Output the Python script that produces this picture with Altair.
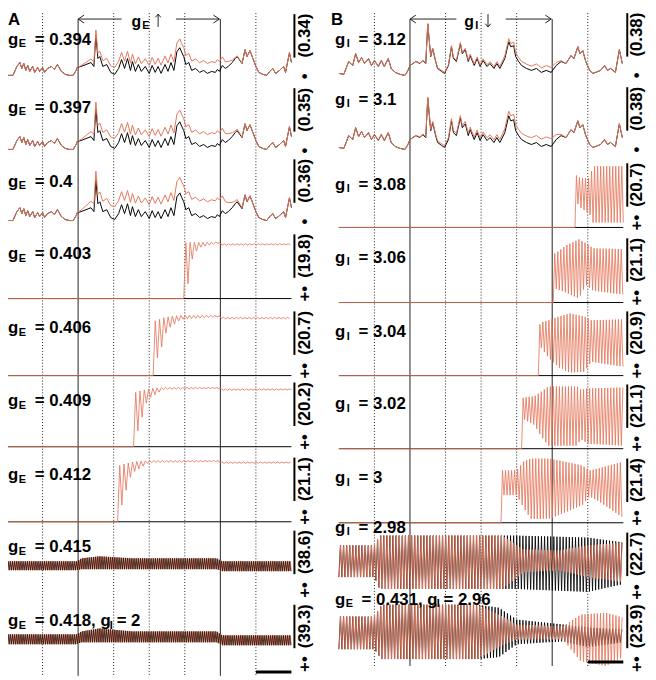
import numpy as np
import pandas as pd
import altair as alt

# ---------------- values ----------------
LABELS_A = ["0.394", "0.397", "0.4", "0.403", "0.406", "0.409", "0.412", "0.415", "0.418"]
LABELS_B = ["3.12", "3.1", "3.08", "3.06", "3.04", "3.02", "3", "2.98", "2.96"]
NUM_A = ["(0.34)", "(0.35)", "(0.36)", "(19.8)", "(20.7)", "(20.2)", "(21.1)", "(38.6)", "(39.3)"]
PRE_A = ["•", "•", "•", "+•", "+•", "+•", "+•", "+•", "+•"]
NUM_B = ["(0.38)", "(0.38)", "(20.7)", "(21.1)", "(20.9)", "(21.1)", "(21.4)", "(22.7)", "(23.9)"]
PRE_B = ["•", "•", "+•", "+•", "+•", "+•", "+•", "+•", "+•"]

# shared low-activity trace, panel A (time 0..8, height)
A_TRACE_T = [0.000, 0.167, 0.278, 0.361, 0.417, 0.472, 0.528, 0.583, 0.639, 0.722, 0.778, 0.861, 0.917,
             1.000, 1.056, 1.139, 1.250, 1.333, 1.417, 1.528, 1.639, 1.750, 1.861, 1.944, 1.972, 2.083,
             2.222, 2.361, 2.444, 2.500, 2.556, 2.611, 2.694, 2.806, 2.917, 3.028, 3.139, 3.222, 3.306,
             3.389, 3.472, 3.528, 3.611, 3.694, 3.778, 3.889, 4.000, 4.083, 4.167, 4.250, 4.333, 4.444,
             4.528, 4.611, 4.694, 4.778, 4.861, 4.917, 4.972, 5.028, 5.111, 5.194, 5.306, 5.417, 5.528,
             5.639, 5.750, 5.861, 5.917, 5.972, 6.056, 6.139, 6.222, 6.333, 6.417, 6.472, 6.611, 6.694,
             6.750, 6.833, 6.917, 7.000, 7.083, 7.194, 7.306, 7.389, 7.472, 7.556, 7.667, 7.778, 7.833,
             7.944, 8.000]
A_TRACE_H = [1, 1, 10, 14, 8, 13, 6, 11, 5, 10, 4, 9, 5, 9, 4, 8, 10, 7, 12, 5, 2, 1, 1, 6, 9, 10, 12, 14,
             10, 42, 18, 20, 10, 12, 4, 2, 8, 17, 8, 18, 6, 15, 5, 12, 5, 10, 3, 11, 4, 10, 3, 12, 5, 14,
             6, 25, 29, 24, 20, 12, 14, 6, 8, 4, 6, 3, 5, 4, 7, 5, 11, 8, 10, 14, 18, 20, 13, 27, 20, 26,
             18, 10, 4, 2, 1, 5, 8, 3, 6, 10, 4, 24, 14]
# shared low-activity trace, panel B
B_TRACE_T = [0.000, 0.139, 0.278, 0.389, 0.472, 0.556, 0.639, 0.722, 0.833, 0.917, 1.000, 1.111, 1.194,
             1.278, 1.389, 1.472, 1.583, 1.722, 1.861, 1.944, 2.000, 2.083, 2.167, 2.278, 2.361, 2.444,
             2.500, 2.583, 2.639, 2.722, 2.778, 2.889, 2.972, 3.083, 3.167, 3.222, 3.306, 3.417, 3.472,
             3.556, 3.639, 3.694, 3.806, 3.889, 3.972, 4.056, 4.167, 4.250, 4.361, 4.444, 4.528, 4.667,
             4.778, 4.833, 4.917, 4.972, 5.056, 5.139, 5.278, 5.417, 5.556, 5.694, 5.833, 5.972, 6.111,
             6.250, 6.389, 6.528, 6.611, 6.722, 6.778, 6.861, 6.944, 7.056, 7.139, 7.222, 7.361, 7.472,
             7.556, 7.639, 7.778, 7.889, 7.972]
B_TRACE_H = [2, 1, 14, 10, 22, 13, 18, 12, 17, 10, 15, 9, 15, 9, 17, 7, 3, 1, 0, 5, 10, 12, 14, 12, 15,
             12, 52, 19, 27, 14, 7, 4, 2, 10, 29, 17, 14, 32, 22, 26, 14, 20, 10, 17, 9, 15, 9, 12, 7, 12,
             7, 17, 34, 29, 30, 19, 14, 10, 7, 5, 7, 3, 5, 3, 10, 14, 12, 20, 17, 29, 22, 25, 14, 5, 2, 3,
             5, 10, 5, 7, 3, 26, 12]

# extra height of the orange trace in the top rows
A_OFF_T = [0, 2.0, 2.5, 3.0, 4.0, 5.0, 5.5, 6.0, 6.4, 6.7, 8.0]
A_OFF = [[0, 0, 5, 7, 8, 9, 10, 10, 1, 0, 0],
         [0, 0, 7, 10, 11, 12, 13, 13, 2, 0, 0],
         [0, 0, 9, 13, 14, 16, 17, 17, 3, 0, 0]]
B_OFF_T = [0, 2.0, 3.0, 4.5, 5.0, 6.0, 6.3, 8.0]
B_OFF = [[0, 0, 1, 2, 4, 5, 0, 0],
         [0, 0, 2, 3, 6, 8, 0, 0]]

# oscillating orange traces after onset: (onset, period, envelope times, upper, lower)
A_OSC = {
    3: (4.97, 0.12, [4.97, 5.09, 5.21, 5.33, 5.45, 5.8, 5.95, 6.05, 8.0],
        [56, 57, 57, 57, 57, 57, 57.5, 55.5, 55.5], [15, 15, 40, 48, 52, 55, 56, 54, 54.5]),
    4: (4.11, 0.12, [4.11, 4.23, 4.35, 4.47, 4.59, 4.9, 5.95, 6.05, 8.0],
        [55, 56, 58, 59, 60, 61, 61, 59, 59], [18, 18, 29, 43, 49, 57, 59.5, 57.5, 57.5]),
    5: (3.56, 0.12, [3.56, 3.68, 3.8, 3.92, 4.04, 4.4, 5.95, 6.05, 8.0],
        [54, 56, 57, 58, 59, 60, 60, 58.5, 58.5], [16, 16, 30, 44, 50, 58, 59, 57, 57.5]),
    6: (3.11, 0.12, [3.11, 3.23, 3.35, 3.47, 3.59, 4.0, 5.95, 6.05, 8.0],
        [56, 58, 59, 60, 61, 62, 62, 60.5, 60.5], [17, 17, 32, 45, 51, 60, 61, 59, 59.5]),
}
B_OSC = {
    2: (6.64, 0.085, [6.64, 6.7, 6.8, 7.05, 7.15, 8.0], [54, 52, 50, 50, 62, 62], [25, 25, 20, 14, 5, 5]),
    3: (6.03, 0.085, [6.03, 6.1, 6.4, 6.75, 6.95, 7.15, 8.0], [49, 50, 58, 64, 60, 55, 54],
        [14, 14, 10, 4, 18, 12, 8]),
    4: (5.61, 0.085, [5.61, 5.7, 5.9, 6.2, 6.5, 6.9, 7.1, 8.0], [50, 54, 56, 60, 63, 60, 56, 57],
        [28, 28, 18, 8, 3, 4, 14, 9]),
    5: (5.14, 0.085, [5.14, 5.2, 5.5, 5.7, 5.9, 6.7, 6.8, 7.0, 8.0], [50, 52, 53, 58, 63, 63, 60, 61, 62],
        [30, 30, 24, 12, 3, 3, 10, 5, 3]),
    6: (4.56, 0.085, [4.56, 4.6, 5.0, 5.2, 5.4, 5.9, 6.2, 6.85, 7.05, 7.3, 8.0],
        [50, 53, 53, 62, 65, 65, 63, 58, 53, 55, 62], [28, 28, 28, 15, 4, 4, 8, 18, 27, 22, 5]),
}
# fully oscillating rows: (period, phase, envelope times, upper, lower) for black "k" and orange "o"
A_FULL = {
    7: {"k": (0.06, 0.0, [0, 1.95, 2.1, 2.6, 3.5, 5.9, 6.05, 8], [34, 34, 37, 39, 37, 37, 34, 34],
              [25, 25, 26, 26, 26, 26, 24, 24]),
        "o": (0.06, 0.5, [0, 1.95, 2.1, 2.6, 3.5, 5.9, 6.05, 8], [34, 34, 37, 39, 37, 37, 34, 34],
              [25, 25, 26, 26, 26, 26, 24, 24])},
    8: {"k": (0.06, 0.0, [0, 1.95, 2.1, 2.6, 3.5, 5.9, 6.05, 8], [35, 35, 38, 41, 38, 38, 34, 34],
              [25, 25, 27, 27, 27, 27, 24, 24]),
        "o": (0.06, 0.5, [0, 1.95, 2.1, 2.6, 3.5, 5.9, 6.05, 8], [35, 35, 38, 41, 38, 38, 34, 34],
              [25, 25, 27, 27, 27, 27, 24, 24])},
}
B_FULL = {
    7: {"k": (0.087, 0.0, [0, 1.0, 1.15, 5.0, 7.0, 8.0], [52, 52, 62, 62, 60, 55], [20, 20, 8, 8, 5, 13]),
        "o": (0.087, 0.15, [0, 1.0, 1.15, 4.6, 5.2, 6.2, 7.0, 8.0], [52, 52, 62, 62, 48, 47, 52, 55],
              [20, 20, 8, 8, 25, 27, 20, 15])},
    8: {"k": (0.087, 0.0, [0, 1.0, 1.2, 3.9, 4.5, 5.0, 6.3, 7.0, 8.0], [53, 53, 65, 65, 62, 50, 45, 42, 40],
              [20, 20, 10, 10, 12, 25, 28, 22, 27]),
        "o": (0.087, 0.15, [0, 1.0, 1.2, 3.9, 4.5, 5.0, 6.3, 6.8, 7.5, 8.0],
              [53, 53, 65, 65, 55, 45, 43, 55, 57, 52], [20, 20, 10, 10, 22, 30, 30, 8, 3, 12])},
}

# ---------------- layout ----------------
BASE_A = [73, 148, 220, 298, 376, 448, 524, 598, 673]   # row baselines (page px)
BASE_B = [72, 147, 226, 302, 376, 450, 525, 600, 673]
LAB_Y_A = [36, 105, 180, 253, 328, 402, 477, 550, 625]
LAB_Y_B = [36, 97, 183, 257, 332, 405, 480, 530, 603]
B_SHIFT = 336 / 36.0
W, H = 648, 672
BLACK = "#000000"
ORANGE = "#E5765B"
FONT = "Liberation Sans"
ARROW_Y = 15


def gx(px):
    return (px - 7) / 36.0


def gy(py):
    return 73.0 - py


def zigzag(t0, period, env_t, hi, lo, phase=0.0, t_end=8.0):
    ts, hs = [], []
    k = 0
    if t0 > 0:
        ts += [0.0, t0]
        hs += [0.0, 0.0]
        k = 1
    half = period / 2.0
    while True:
        t = t0 + (k + phase) * half
        if t > t_end:
            break
        hs.append(float(np.interp(t, env_t, hi if k % 2 else lo)))
        ts.append(t)
        k += 1
    return ts, hs


line_rows = []


def add_line(sid, color, kind, col, row, ts, hs):
    shift = 0.0 if col == "A" else B_SHIFT
    base = BASE_A[row] if col == "A" else BASE_B[row]
    for i, (t, h) in enumerate(zip(ts, hs)):
        line_rows.append(dict(sid=sid, c=color, kind=kind, i=i, X=t + shift, Y=gy(base) + h))


for col, tr_t, tr_h, off_t, offs, osc, full in [
        ("A", A_TRACE_T, A_TRACE_H, A_OFF_T, A_OFF, A_OSC, A_FULL),
        ("B", B_TRACE_T, B_TRACE_H, B_OFF_T, B_OFF, B_OSC, B_FULL)]:
    for r in range(9):
        sid = f"{col}{r}"
        if r < len(offs):
            add_line(sid + "k", "k", "slow", col, r, tr_t, tr_h)
            o = np.interp(tr_t, off_t, offs[r])
            add_line(sid + "o", "o", "slow", col, r, tr_t, list(np.array(tr_h) + o))
        elif r in osc:
            t0, per, et, hi, lo = osc[r]
            add_line(sid + "k", "k", "slow", col, r, [0.0, 8.0], [0.0, 0.0])
            ts, hs = zigzag(t0, per, et, hi, lo)
            add_line(sid + "o", "o", "fast", col, r, ts, hs)
        else:
            # panel A: black drawn over orange; panel B: orange over black
            kind = "fastA" if col == "A" else "fast"
            for c in ("k", "o"):
                per, ph, et, hi, lo = full[r][c]
                ts, hs = zigzag(0.0, per, et, hi, lo, phase=ph)
                add_line(sid + c, c, kind, col, r, ts, hs)

lines = pd.DataFrame(line_rows)

xs = alt.Scale(domain=[gx(8), gx(8 + W)], nice=False, zero=False)
ys = alt.Scale(domain=[gy(8 + H), gy(8)], nice=False, zero=False)
X = alt.X("X:Q", scale=xs, axis=None)
Y = alt.Y("Y:Q", scale=ys, axis=None)

# grid lines
grid = []
for shift, bottom in [(0.0, 680), (B_SHIFT, 670)]:
    for t in range(1, 8):
        solid = t in (2, 6)
        grid.append(dict(X=t + shift, Y=gy(ARROW_Y if solid else 9), Y2=gy(bottom), solid=solid))
grid = pd.DataFrame(grid)
g_solid = alt.Chart(grid[grid.solid]).mark_rule(color="#222", strokeWidth=1).encode(x=X, y=Y, y2="Y2:Q")
g_dot = alt.Chart(grid[~grid.solid]).mark_rule(color="#222", strokeWidth=1, strokeDash=[1, 2]).encode(
    x=X, y=Y, y2="Y2:Q")


def trace_layer(c, kind, color, width):
    d = lines[(lines.c == c) & (lines.kind == kind)]
    return alt.Chart(d).mark_line(color=color, strokeWidth=width).encode(
        x=X, y=Y, detail="sid:N", order="i:Q")


k_slow = trace_layer("k", "slow", BLACK, 1)
k_fast = trace_layer("k", "fast", BLACK, 0.85)
o_slow = trace_layer("o", "slow", ORANGE, 1)
o_fast = trace_layer("o", "fast", ORANGE, 0.85)
o_fastA = trace_layer("o", "fastA", ORANGE, 0.9)
k_fastA = trace_layer("k", "fastA", "#2a0f08", 0.8)

# scale bars (1 time unit)
bars = pd.DataFrame([dict(X=7.0, X2=8.0, Y=gy(676)), dict(X=7.0 + B_SHIFT, X2=8.0 + B_SHIFT, Y=gy(666))])
scale_bars = alt.Chart(bars).mark_rule(color=BLACK, strokeWidth=3).encode(x=X, x2="X2:Q", y=Y)

# top double arrows
arr = pd.DataFrame([
    dict(X=gx(79), X2=gx(123), Y=gy(ARROW_Y)), dict(X=gx(178), X2=gx(222), Y=gy(ARROW_Y)),
    dict(X=gx(415), X2=gx(462), Y=gy(ARROW_Y)), dict(X=gx(512), X2=gx(558), Y=gy(ARROW_Y))])
arrow_lines = alt.Chart(arr).mark_rule(color="#222", strokeWidth=1).encode(x=X, x2="X2:Q", y=Y)
heads_l = pd.DataFrame([dict(X=gx(79), Y=gy(ARROW_Y)), dict(X=gx(415), Y=gy(ARROW_Y))])
heads_r = pd.DataFrame([dict(X=gx(222), Y=gy(ARROW_Y)), dict(X=gx(558), Y=gy(ARROW_Y))])
head_l = alt.Chart(heads_l).mark_point(shape="M1.5,-1L0,0L1.5,1", size=64, filled=False, color="#222",
                                       strokeWidth=1, opacity=1).encode(x=X, y=Y)
head_r = alt.Chart(heads_r).mark_point(shape="M-1.5,-1L0,0L-1.5,1", size=64, filled=False, color="#222",
                                       strokeWidth=1, opacity=1).encode(x=X, y=Y)
# small up / down arrows next to g_E / g_I
vshaft = pd.DataFrame([dict(X=gx(160), Y=gy(10), Y2=gy(23)), dict(X=gx(494), Y=gy(10), Y2=gy(23))])
v_shafts = alt.Chart(vshaft).mark_rule(color="#222", strokeWidth=1).encode(x=X, y=Y, y2="Y2:Q")
up_head = alt.Chart(pd.DataFrame([dict(X=gx(160), Y=gy(10))])).mark_point(
    shape="M-1,1.2L0,0L1,1.2", size=30, filled=False, color="#222", strokeWidth=1, opacity=1).encode(x=X, y=Y)
down_head = alt.Chart(pd.DataFrame([dict(X=gx(494), Y=gy(23))])).mark_point(
    shape="M-1,-1.2L0,0L1,-1.2", size=30, filled=False, color="#222", strokeWidth=1, opacity=1).encode(x=X, y=Y)

# row labels
big, sub, rot, over = [], [], [], []
for col, labs, laby, x0 in [("A", LABELS_A, LAB_Y_A, 8), ("B", LABELS_B, LAB_Y_B, 339)]:
    for r in range(9):
        y = laby[r]
        big.append(dict(X=gx(x0), Y=gy(y), text="g"))
        if col == "A" and r == 8:
            sub.append(dict(X=gx(x0 + 11), Y=gy(y + 4.5), text="E"))
            big.append(dict(X=gx(x0 + 27), Y=gy(y), text="= 0.418, g"))
            sub.append(dict(X=gx(x0 + 103), Y=gy(y + 4.5), text="I"))
            big.append(dict(X=gx(x0 + 110), Y=gy(y), text="= 2"))
        elif col == "B" and r == 8:
            sub.append(dict(X=gx(x0 + 11), Y=gy(y + 4.5), text="E"))
            big.append(dict(X=gx(x0 + 27), Y=gy(y), text="= 0.431, g"))
            sub.append(dict(X=gx(x0 + 103), Y=gy(y + 4.5), text="I"))
            big.append(dict(X=gx(x0 + 110), Y=gy(y), text="= " + labs[r]))
        elif col == "A":
            sub.append(dict(X=gx(x0 + 11), Y=gy(y + 4.5), text="E"))
            big.append(dict(X=gx(x0 + 27), Y=gy(y), text="= " + labs[r]))
        else:
            sub.append(dict(X=gx(x0 + 12), Y=gy(y + 4.5), text="I"))
            big.append(dict(X=gx(x0 + 24), Y=gy(y), text="= " + labs[r]))

# top labels (g_E / g_I)
top_big = pd.DataFrame([dict(X=gx(133), Y=gy(ARROW_Y + 3), text="g"),
                        dict(X=gx(470), Y=gy(ARROW_Y + 3), text="g")])
sub.append(dict(X=gx(144), Y=gy(ARROW_Y + 7), text="E"))
sub.append(dict(X=gx(481), Y=gy(ARROW_Y + 7), text="I"))

# right-hand labels with overline
for col, nums, pres, bases, tx, bx in [("A", NUM_A, PRE_A, BASE_A, 309, 298),
                                       ("B", NUM_B, PRE_B, BASE_B, 645, 635)]:
    for r in range(9):
        b = bases[r]
        rot.append(dict(X=gx(tx), Y=gy(b + 3), text=pres[r]))
        nb = b - (19 if pres[r] == "•" else 21)
        rot.append(dict(X=gx(tx), Y=gy(nb), text=nums[r]))
        over.append(dict(X=gx(bx), Y=gy(nb), Y2=gy(nb - 44)))

big = pd.DataFrame(big)
sub = pd.DataFrame(sub)
rot = pd.DataFrame(rot)
over = pd.DataFrame(over)
letters = pd.DataFrame([dict(X=gx(8), Y=gy(8), text="A"), dict(X=gx(335), Y=gy(8), text="B")])

t_big = alt.Chart(big).mark_text(font=FONT, fontWeight="bold", fontSize=17, align="left", baseline="middle",
                                 color=BLACK).encode(x=X, y=Y, text="text:N")
t_top = alt.Chart(top_big).mark_text(font=FONT, fontWeight="bold", fontSize=16, align="left",
                                     baseline="middle", color=BLACK).encode(x=X, y=Y, text="text:N")
t_sub = alt.Chart(sub).mark_text(font=FONT, fontWeight="bold", fontSize=11, align="left", baseline="middle",
                                 color=BLACK).encode(x=X, y=Y, text="text:N")
t_rot = alt.Chart(rot).mark_text(font=FONT, fontWeight="bold", fontSize=17, align="left", baseline="middle",
                                 angle=270, color=BLACK).encode(x=X, y=Y, text="text:N")
t_let = alt.Chart(letters).mark_text(font=FONT, fontWeight="bold", fontSize=17, align="left",
                                     baseline="top", color=BLACK).encode(x=X, y=Y, text="text:N")
overlines = alt.Chart(over).mark_rule(color=BLACK, strokeWidth=2).encode(x=X, y=Y, y2="Y2:Q")

chart = alt.layer(
    g_solid, g_dot, k_slow, k_fast, o_slow, o_fast, o_fastA, k_fastA, scale_bars, arrow_lines, head_l, head_r,
    v_shafts, up_head, down_head, t_big, t_top, t_sub, t_rot, overlines, t_let
).properties(width=W, height=H, autosize="none", padding=0).configure_view(strokeWidth=0)

chart.save("out.html", embed_options={"renderer": "svg", "actions": False})
